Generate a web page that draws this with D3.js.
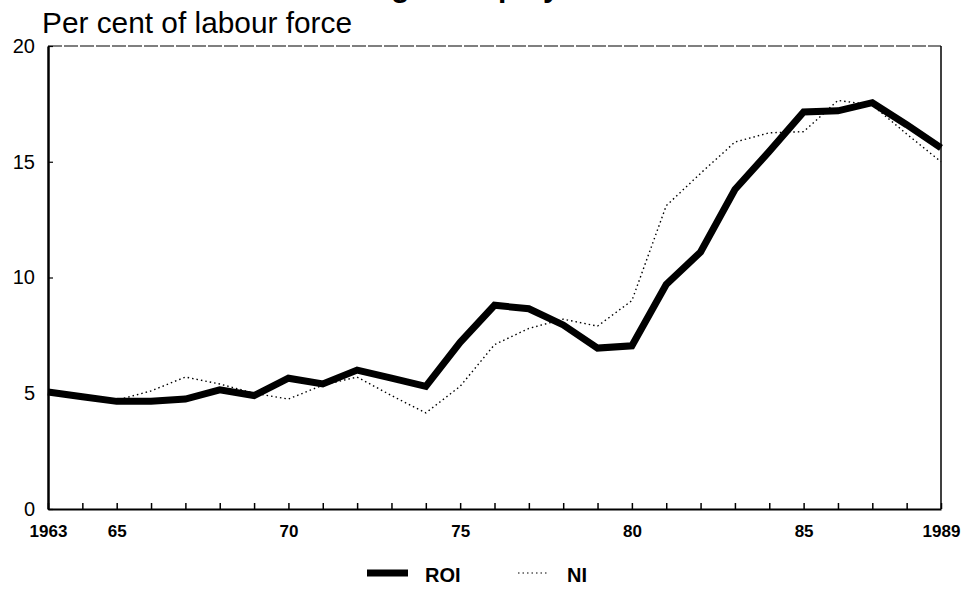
<!DOCTYPE html>
<html>
<head>
<meta charset="utf-8">
<script src="https://cdn.jsdelivr.net/npm/d3@7"></script>
<style>
  body { margin: 0; background: #fff; }
  svg text { font-family: "Liberation Sans", Arial, Helvetica, sans-serif; fill: #000; }
</style>
</head>
<body>
<div id="chart"></div>
<script>
// data
var years = d3.range(1963, 1990);
var roi = [5.05, 4.85, 4.65, 4.65, 4.75, 5.15, 4.9, 5.65, 5.4, 6.0, 5.65, 5.3,
           7.2, 8.8, 8.65, 7.95, 6.95, 7.05, 9.7, 11.1, 13.8, 15.45, 17.15, 17.2,
           17.55, 16.6, 15.6];
var ni = [5.0, 4.9, 4.7, 5.1, 5.7, 5.4, 5.0, 4.75, 5.35, 5.7, 4.9, 4.15,
          5.3, 7.1, 7.8, 8.2, 7.9, 9.0, 13.1, 14.5, 15.85, 16.25, 16.3, 17.65,
          17.45, 16.2, 15.0];
var xLabelYears = [1963, 1965, 1970, 1975, 1980, 1985, 1989];
var xLabels = ['1963', '65', '70', '75', '80', '85', '1989'];
var yTicks = [0, 5, 10, 15, 20];
var seriesNames = ['ROI', 'NI'];

var svgWidth = 976;
var svgHeight = 591;

var margins = {
    top: 46,
    bottom: 82,
    right: 35,
    left: 48
};

var width = svgWidth - margins.left - margins.right;
var height = svgHeight - margins.top - margins.bottom;

var svg = d3.select('#chart')
    .append('svg')
    .attr('width', svgWidth)
    .attr('height', svgHeight);

// title, cut off at the top of the scan (only descenders show)
svg.append('text')
    .attr('x', 318)
    .attr('y', -3)
    .style('font-size', '30px')
    .style('font-weight', 'bold')
    .text('Rising unemployment');

svg.append('text')
    .attr('x', 42)
    .attr('y', 33)
    .attr('textLength', 310)
    .attr('lengthAdjust', 'spacingAndGlyphs')
    .style('font-size', '29px')
    .text('Per cent of labour force');

var chartGroup = svg.append('g')
    .attr('transform', `translate(${margins.left}, ${margins.top})`);

// scales
var xScale = d3.scaleLinear()
    .domain([1963, 1989])
    .range([0, width]);

var yScale = d3.scaleLinear()
    .domain([0, 20])
    .range([height, 0]);

// frame
chartGroup.append('line')
    .attr('x1', 0).attr('x2', width)
    .attr('y1', 0).attr('y2', 0)
    .attr('stroke', '#000')
    .attr('stroke-width', 1.2)
    .attr('stroke-dasharray', '14,2');

chartGroup.append('line')
    .attr('x1', width).attr('x2', width)
    .attr('y1', 0).attr('y2', height)
    .attr('stroke', '#000')
    .attr('stroke-width', 1.5);

// axes
var labelFor = {};
xLabelYears.forEach(function(y, i) { labelFor[y] = xLabels[i]; });

var bottomAxis = d3.axisBottom(xScale)
    .tickValues(years)
    .tickSizeInner(-6)
    .tickSizeOuter(0)
    .tickPadding(16)
    .tickFormat(d => labelFor[d] || '');

var leftAxis = d3.axisLeft(yScale)
    .tickValues(yTicks)
    .tickSizeInner(-5)
    .tickSizeOuter(0)
    .tickPadding(13)
    .tickFormat(d3.format('d'));

var xAxisG = chartGroup.append('g')
    .attr('transform', `translate(0, ${height})`)
    .call(bottomAxis);
xAxisG.select('.domain').attr('stroke-width', 2);
xAxisG.selectAll('line').attr('stroke-width', 1.5);
xAxisG.selectAll('text')
    .style('font-size', '17px')
    .style('font-weight', 'bold');

var yAxisG = chartGroup.append('g')
    .call(leftAxis);
yAxisG.select('.domain').attr('stroke-width', 2.5);
yAxisG.selectAll('line').attr('stroke-width', 1.2);
yAxisG.selectAll('text')
    .style('font-size', '20px');

// lines
var line = d3.line()
    .x((d, i) => xScale(years[i]))
    .y(d => yScale(d));

chartGroup.append('path')
    .datum(ni)
    .attr('fill', 'none')
    .attr('stroke', '#000')
    .attr('stroke-width', 1.4)
    .attr('stroke-dasharray', '1.5,3')
    .attr('d', line);

chartGroup.append('path')
    .datum(roi)
    .attr('fill', 'none')
    .attr('stroke', '#000')
    .attr('stroke-width', 7)
    .attr('stroke-linejoin', 'miter')
    .attr('d', line);

// legend
var legend = svg.append('g')
    .attr('transform', 'translate(367, 573)');

legend.append('line')
    .attr('x1', 0).attr('x2', 41)
    .attr('y1', 0).attr('y2', 0)
    .attr('stroke', '#000')
    .attr('stroke-width', 7);

legend.append('text')
    .attr('x', 58)
    .attr('y', 9)
    .style('font-size', '20px')
    .style('font-weight', 'bold')
    .text(seriesNames[0]);

legend.append('line')
    .attr('x1', 151).attr('x2', 182)
    .attr('y1', 0).attr('y2', 0)
    .attr('stroke', '#000')
    .attr('stroke-width', 1.2)
    .attr('stroke-dasharray', '1.5,3');

legend.append('text')
    .attr('x', 200)
    .attr('y', 9)
    .style('font-size', '20px')
    .style('font-weight', 'bold')
    .text(seriesNames[1]);
</script>
</body>
</html>
